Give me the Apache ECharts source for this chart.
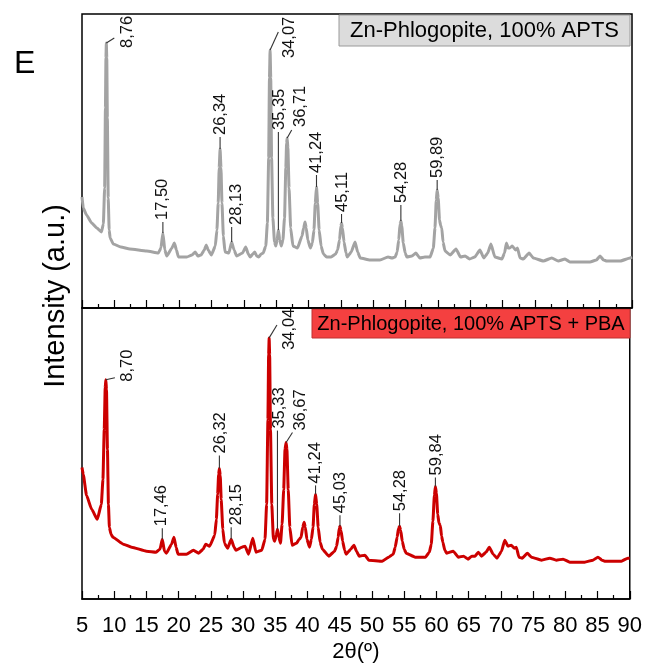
<!DOCTYPE html>
<html>
<head>
<meta charset="utf-8">
<script src="https://cdn.jsdelivr.net/npm/echarts@6/dist/echarts.min.js"></script>
<style>
  html, body { margin: 0; padding: 0; background: #fff; }
  #chart { width: 645px; height: 664px; }
</style>
</head>
<body>
<div id="chart"></div>
<script>
// 2θ (deg) and intensity (a.u.), top panel: Zn-Phlogopite, 100% APTS
const aptsPattern = [
  [5.0, 111], [5.2, 100], [5.7, 93], [6.5, 85], [7.3, 80], [8.0, 76], [8.3, 84], [8.5, 120], [8.62, 200],
  [8.7, 250], [8.76, 265], [8.83, 250], [8.92, 190], [9.05, 110], [9.2, 78], [9.35, 70], [9.84, 64], [11.0, 61],
  [12.4, 59], [15.0, 57], [16.8, 55], [17.2, 60], [17.5, 75], [17.8, 58], [18.1, 52], [18.9, 60], [19.27, 65],
  [19.6, 58], [19.9, 51], [21.2, 51], [22.0, 53], [22.5, 56], [22.9, 52], [23.4, 53], [23.9, 58], [24.2, 63],
  [24.5, 58], [25.0, 53], [25.6, 62], [25.85, 78], [26.05, 105], [26.2, 140], [26.34, 159], [26.48, 140],
  [26.63, 105], [26.85, 72], [27.1, 56], [27.7, 55], [28.13, 66], [28.5, 58], [28.9, 52], [29.8, 55], [30.3, 61],
  [30.7, 54], [31.0, 51], [31.4, 54], [31.7, 56], [32.0, 52], [32.3, 51], [32.7, 54], [33.0, 55], [33.4, 62],
  [33.65, 85], [33.85, 150], [33.97, 230], [34.07, 258], [34.17, 230], [34.3, 150], [34.5, 90], [34.75, 66],
  [34.95, 62], [35.15, 68], [35.35, 78], [35.55, 68], [35.8, 62], [36.05, 68], [36.3, 90], [36.5, 140],
  [36.62, 165], [36.71, 170], [36.82, 160], [37.0, 120], [37.25, 80], [37.6, 62], [38.3, 60], [39.0, 72],
  [39.25, 80], [39.47, 86], [39.65, 80], [39.9, 68], [40.3, 60], [40.6, 65], [40.85, 78], [41.05, 105],
  [41.24, 121], [41.42, 105], [41.65, 78], [41.95, 62], [42.3, 54], [42.8, 51], [43.5, 51], [44.2, 54],
  [44.5, 58], [44.8, 68], [45.0, 82], [45.11, 85], [45.25, 80], [45.5, 66], [45.8, 55], [46.0, 51], [46.6, 56],
  [47.2, 66], [47.6, 56], [48.0, 50], [49.5, 48], [51.05, 48], [52.3, 51], [52.9, 50], [53.4, 51], [53.7, 56],
  [53.95, 68], [54.15, 84], [54.28, 87], [54.42, 82], [54.65, 65], [54.95, 55], [55.2, 51], [56.0, 52],
  [56.6, 55], [57.2, 50], [58.0, 51], [58.8, 51], [59.3, 60], [59.55, 80], [59.75, 108], [59.89, 118],
  [60.05, 110], [60.25, 88], [60.45, 82], [60.6, 80], [60.8, 66], [61.1, 57], [61.9, 53], [62.8, 59], [63.5, 51],
  [64.2, 52], [64.9, 49], [65.7, 51], [66.5, 58], [67.1, 50], [67.7, 55], [68.2, 64], [68.8, 51], [69.9, 49],
  [70.3, 55], [70.6, 65], [70.85, 60], [71.1, 60], [71.5, 62], [72.0, 58], [72.3, 60], [72.7, 50], [73.2, 49],
  [74.1, 55], [74.75, 50], [76.3, 47], [77.6, 50], [78.6, 47], [79.65, 49], [80.4, 46], [83.5, 46], [84.5, 48],
  [85.06, 52], [85.6, 48], [86.1, 47], [88.2, 47], [89.7, 50], [90.0, 51]
];

// bottom panel: Zn-Phlogopite, 100% APTS + PBA
const pbaPattern = [
  [5.0, 132], [5.2, 125], [5.7, 104], [6.5, 90], [7.37, 80], [8.0, 95], [8.25, 120], [8.45, 170], [8.6, 212],
  [8.7, 220], [8.8, 210], [8.95, 150], [9.1, 95], [9.25, 72], [9.5, 65], [9.8, 62], [11.4, 55], [12.7, 52],
  [15.0, 48], [16.5, 47], [17.1, 50], [17.46, 60], [17.8, 48], [18.1, 46], [18.9, 55], [19.27, 62], [19.6, 52],
  [19.9, 45], [21.2, 45], [22.3, 49], [23.1, 46], [23.8, 50], [24.2, 55], [24.8, 53], [25.6, 64], [25.85, 80],
  [26.05, 105], [26.2, 125], [26.32, 131], [26.45, 124], [26.6, 100], [26.85, 70], [27.1, 56], [27.6, 51],
  [28.15, 60], [28.6, 52], [28.9, 49], [29.8, 52], [30.3, 53], [30.85, 45], [31.5, 61], [32.0, 47], [32.9, 49],
  [33.4, 60], [33.65, 95], [33.85, 180], [33.96, 245], [34.04, 262], [34.12, 245], [34.25, 170], [34.45, 95],
  [34.7, 60], [34.9, 58], [35.15, 64], [35.33, 70], [35.55, 62], [35.8, 56], [36.05, 75], [36.3, 110],
  [36.5, 150], [36.67, 157], [36.8, 150], [37.0, 110], [37.25, 72], [37.6, 54], [38.3, 56], [38.7, 60],
  [39.0, 62], [39.25, 72], [39.47, 77], [39.65, 72], [39.9, 60], [40.3, 52], [40.6, 60], [40.85, 72],
  [41.05, 95], [41.24, 105], [41.42, 95], [41.65, 72], [41.95, 57], [42.3, 50], [43.3, 43], [44.2, 48],
  [44.5, 53], [44.75, 62], [44.92, 71], [45.03, 73], [45.18, 69], [45.45, 58], [45.75, 49], [46.0, 45],
  [46.7, 50], [47.2, 54], [47.6, 48], [48.0, 43], [48.9, 44], [49.5, 39], [51.6, 38], [52.6, 42], [53.3, 45],
  [53.6, 52], [53.9, 62], [54.12, 71], [54.28, 73], [54.45, 69], [54.7, 58], [55.0, 50], [55.3, 46], [56.7, 42],
  [58.3, 42], [58.9, 47], [59.2, 55], [59.45, 78], [59.68, 104], [59.84, 113], [60.0, 106], [60.2, 85],
  [60.4, 76], [60.6, 74], [60.8, 63], [61.0, 57], [61.3, 49], [61.6, 46], [62.6, 48], [63.4, 42], [64.2, 43],
  [64.9, 40], [65.5, 43], [66.0, 43], [66.5, 47], [67.0, 43], [67.7, 47], [68.2, 52], [68.8, 45], [69.4, 41],
  [70.1, 48], [70.6, 59], [71.1, 53], [71.6, 54], [72.1, 51], [72.4, 52], [72.8, 42], [73.3, 41], [74.1, 46],
  [74.75, 42], [76.3, 39], [77.6, 41], [78.6, 39], [79.65, 40], [80.7, 37], [83.0, 37], [84.3, 39], [85.06, 42],
  [85.7, 39], [86.1, 38], [88.7, 38], [89.7, 41], [90.0, 41]
];

// peak annotations: text, peak top, end of leader line, start of the rotated text
const aptsPeakText = ['8,76', '17,50', '26,34', '28,13', '34,07', '35,35', '36,71', '41,24', '45,11', '54,28', '59,89'];
const aptsPeakTop = [[8.76, 265], [17.5, 75], [26.34, 159], [28.13, 66], [34.07, 258], [35.35, 78], [36.71, 170], [41.24, 121], [45.11, 85], [54.28, 87], [59.89, 118]];
const aptsLeaderEnd = [[9.99, 270], [17.5, 86], [26.34, 171], [28.13, 81], [35.34, 276], [35.35, 176], [37.41, 178], [41.24, 133], [45.11, 94], [54.28, 103], [59.89, 128]];
const aptsTextAt = [[11.95, 260], [17.5, 88], [26.44, 173], [28.9, 83], [36.99, 250], [35.55, 178], [38.69, 181], [41.3, 135], [45.22, 96], [54.4, 105], [60.0, 130]];

const pbaPeakText = ['8,70', '17,46', '26,32', '28,15', '34,04', '35,33', '36,67', '41,24', '45,03', '54,28', '59,84'];
const pbaPeakTop = [[8.7, 220], [17.46, 60], [26.32, 131], [28.15, 60], [34.04, 262], [35.33, 70], [36.67, 157], [41.24, 105], [45.03, 73], [54.28, 73], [59.84, 113]];
const pbaLeaderEnd = [[10.1, 222], [17.46, 71], [26.32, 144], [28.15, 72], [35.25, 275], [35.33, 169], [37.66, 167], [41.24, 114], [45.03, 84], [54.28, 86], [59.84, 122]];
const pbaTextAt = [[12.0, 218], [17.4, 73], [26.5, 146], [28.95, 74], [37.15, 250], [35.6, 171], [38.95, 169], [41.3, 116], [45.1, 86], [54.4, 88], [60.0, 124]];

const FONT = "'Liberation Sans', Arial, sans-serif";

// 把峰位标注拼成 custom series 的数据
function peakSeries (idx, texts, tops, ends, at) {
  return {
    type: 'custom',
    xAxisIndex: idx,
    yAxisIndex: idx,
    silent: true,
    clip: false,
    z: 5,
    data: texts.map((t, i) => [tops[i][0], tops[i][1], ends[i][0], ends[i][1], at[i][0], at[i][1]]),
    encode: { x: [0, 2, 4], y: [1, 3, 5] },
    renderItem (params, api) {
      const p = api.coord([api.value(0), api.value(1)])
      const e = api.coord([api.value(2), api.value(3)])
      const t = api.coord([api.value(4), api.value(5)])
      return {
        type: 'group',
        children: [
          {
            type: 'line',
            shape: { x1: p[0], y1: p[1], x2: e[0], y2: e[1] },
            style: { stroke: '#333', lineWidth: 1.1 }
          },
          {
            type: 'text',
            x: t[0],
            y: t[1],
            rotation: Math.PI / 2,
            style: {
              text: texts[params.dataIndex],
              font: '16.5px ' + FONT,
              fill: '#111',
              align: 'left',
              verticalAlign: 'middle'
            }
          }
        ]
      }
    }
  }
}

const xAxisBase = {
  type: 'value',
  min: 5,
  max: 90,
  interval: 5,
  axisLine: { show: true, lineStyle: { color: '#000', width: 1.5 } },
  axisTick: { show: true, inside: true, length: 8, lineStyle: { color: '#000', width: 1.2 } },
  minorTick: { show: true, splitNumber: 2, length: 4, lineStyle: { color: '#000', width: 1.2 } },
  splitLine: { show: false },
  minorSplitLine: { show: false }
}

const lineBase = {
  type: 'line',
  showSymbol: false,
  symbol: 'none',
  smooth: 0.15,
  smoothMonotone: 'x'
}

const chart = echarts.init(document.getElementById('chart'), null, { renderer: 'canvas' })

chart.setOption({
  animation: false,
  backgroundColor: '#fff',
  grid: [
    { left: 82, right: 13, top: 14, height: 294, show: true, borderColor: '#000', borderWidth: 1.5, backgroundColor: 'transparent' },
    { left: 82, right: 13, top: 308, height: 292, show: true, borderColor: '#000', borderWidth: 1.5, backgroundColor: 'transparent' }
  ],
  xAxis: [
    Object.assign({}, xAxisBase, { gridIndex: 0, axisLabel: { show: false } }),
    Object.assign({}, xAxisBase, {
      gridIndex: 1,
      axisLabel: { show: true, color: '#000', fontSize: 22, fontFamily: FONT, margin: 16 },
      name: '2θ(º)',
      nameLocation: 'middle',
      nameGap: 42,
      nameTextStyle: { color: '#000', fontSize: 22, fontFamily: FONT }
    })
  ],
  yAxis: [
    { type: 'value', gridIndex: 0, min: 0, max: 294, show: false },
    { type: 'value', gridIndex: 1, min: 0, max: 292, show: false }
  ],
  series: [
    Object.assign({}, lineBase, {
      name: 'Zn-Phlogopite, 100% APTS',
      xAxisIndex: 0,
      yAxisIndex: 0,
      data: aptsPattern,
      lineStyle: { color: '#a3a3a3', width: 3 }
    }),
    Object.assign({}, lineBase, {
      name: 'Zn-Phlogopite, 100% APTS + PBA',
      xAxisIndex: 1,
      yAxisIndex: 1,
      data: pbaPattern,
      lineStyle: { color: '#cc0000', width: 3 }
    }),
    peakSeries(0, aptsPeakText, aptsPeakTop, aptsLeaderEnd, aptsTextAt),
    peakSeries(1, pbaPeakText, pbaPeakTop, pbaLeaderEnd, pbaTextAt)
  ],
  graphic: [
    // 面板字母
    { type: 'text', left: 14, top: 48, style: { text: 'E', font: '32px ' + FONT, fill: '#000' } },
    // y 轴标题
    {
      type: 'text',
      x: 56,
      y: 296,
      rotation: Math.PI / 2,
      style: { text: 'Intensity (a.u.)', font: '29px ' + FONT, fill: '#000', align: 'center', verticalAlign: 'middle' }
    },
    // 图例框
    {
      type: 'group',
      children: [
        { type: 'rect', shape: { x: 339, y: 15, width: 291, height: 31 }, style: { fill: '#dcdcdc', stroke: '#9a9a9a', lineWidth: 1 } },
        { type: 'text', x: 484.5, y: 31, style: { text: 'Zn-Phlogopite, 100% APTS', font: '22px ' + FONT, fill: '#000', align: 'center', verticalAlign: 'middle' } },
        { type: 'rect', shape: { x: 312, y: 309, width: 318, height: 29 }, style: { fill: '#f44040', stroke: '#c03030', lineWidth: 1 } },
        { type: 'text', x: 471, y: 324, style: { text: 'Zn-Phlogopite, 100% APTS + PBA', font: '20px ' + FONT, fill: '#000', align: 'center', verticalAlign: 'middle' } }
      ]
    }
  ]
})
</script>
</body>
</html>
